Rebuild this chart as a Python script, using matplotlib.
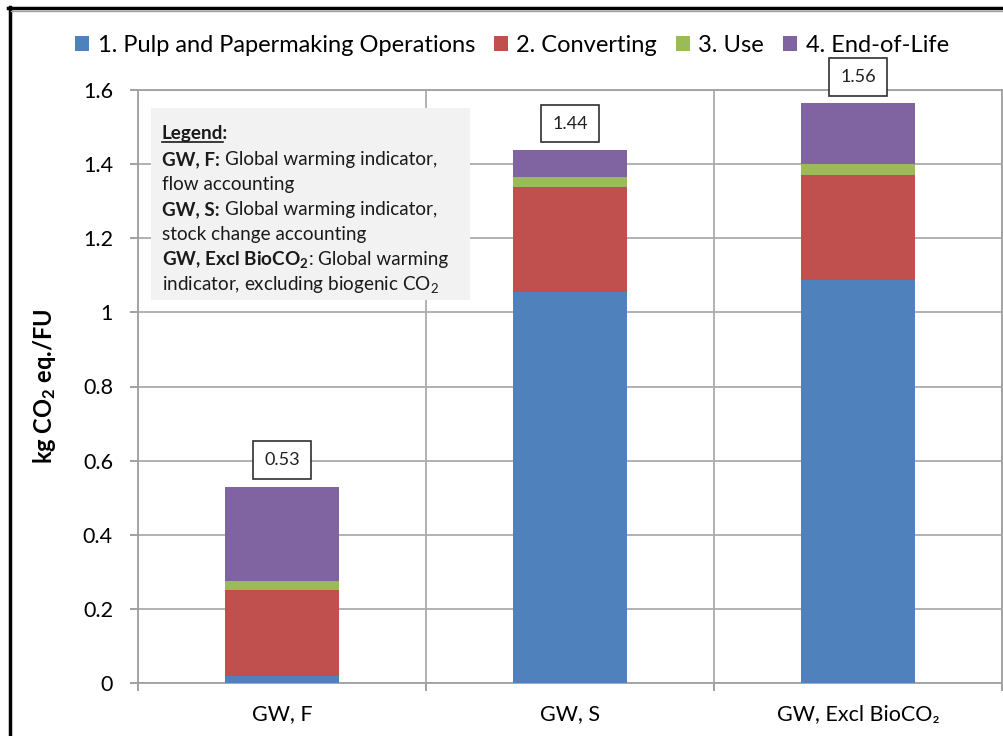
import matplotlib
matplotlib.use("Agg")
import matplotlib.pyplot as plt
from matplotlib.patches import Patch, Rectangle
from matplotlib.lines import Line2D
import numpy as np

plt.rcParams['font.family'] = ['Lato', 'DejaVu Sans']
plt.rcParams['mathtext.fontset'] = 'custom'
plt.rcParams['mathtext.rm'] = 'Lato'
plt.rcParams['mathtext.it'] = 'Lato:italic'
plt.rcParams['mathtext.bf'] = 'Lato:bold'

# ---- data ----
categories = ["GW, F", "GW, S", "GW, Excl BioCO\u2082"]
series_names = ["1. Pulp and Papermaking Operations", "2. Converting", "3. Use", "4. End-of-Life"]
pulp = [0.020, 1.055, 1.087]
converting = [0.230, 0.284, 0.285]
use = [0.026, 0.026, 0.028]
end_of_life = [0.254, 0.073, 0.164]
totals_labels = ["0.53", "1.44", "1.56"]
yticks = [0, 0.2, 0.4, 0.6, 0.8, 1.0, 1.2, 1.4, 1.6]
ytick_labels = ["0", "0.2", "0.4", "0.6", "0.8", "1", "1.2", "1.4", "1.6"]
colors = ["#4F81BD", "#C0504D", "#9BBB59", "#8064A2"]

W, H = 1004, 736
fig = plt.figure(figsize=(W / 100, H / 100), dpi=100)

def fx(x):
    return x / W

def fy(y):
    return 1 - y / H

ax = fig.add_axes([fx(138), fy(683), fx(1002) - fx(138), fy(90) - fy(683)])

x = np.arange(len(categories))
series = [pulp, converting, use, end_of_life]
bottom = np.zeros(len(categories))
handles = []
for vals, c, name in zip(series, colors, series_names):
    ax.bar(x, vals, width=0.395, bottom=bottom, color=c, zorder=3, linewidth=0)
    bottom = bottom + np.array(vals)
    handles.append(Patch(facecolor=c, edgecolor='none', label=name))

for xi, top, lab in zip(x, bottom, totals_labels):
    ax.annotate(lab, xy=(xi, top), xytext=(0, 19), textcoords='offset points',
                ha='center', va='center', fontsize=13, color='#202020', zorder=5,
                bbox=dict(boxstyle='square,pad=0.6', facecolor='white', edgecolor='#303030', linewidth=1.2))

ax.set_xlim(-0.5, 2.5)
ax.set_ylim(0, 1.6)
ax.set_yticks(yticks)
ax.set_yticklabels(ytick_labels, fontsize=15.5)
ax.set_xticks([-0.5, 0.5, 1.5, 2.5])
ax.set_xticklabels([])
ax.set_xticks(x, minor=True)
ax.set_xticklabels(categories, minor=True, fontsize=15.5)
ax.tick_params(axis='x', which='minor', length=0, pad=15)
ax.tick_params(axis='x', which='major', length=6, color='#909090', width=1.2)
ax.tick_params(axis='y', length=6, color='#909090', width=1.2, pad=12)
ax.grid(True, which='major', color='#ababab', linewidth=1.3, zorder=0)
ax.set_axisbelow(True)
for s in ax.spines.values():
    s.set_color('#a0a0a0')
    s.set_linewidth(1.3)

ax.set_ylabel(r"kg CO$_\mathbf{2}$ eq./FU", fontsize=17, fontweight='bold', labelpad=18)

fig.legend(handles=handles, loc='center', bbox_to_anchor=(fx(512), fy(45)), ncol=4,
           frameon=False, fontsize=17, handlelength=0.6, handleheight=0.6,
           handletextpad=0.35, columnspacing=0.8, borderaxespad=0)

# text box
fig.add_artist(Rectangle((fx(151), fy(300)), fx(470) - fx(151), fy(108) - fy(300),
                         transform=fig.transFigure, facecolor='#f2f2f2', edgecolor='none', zorder=4))

renderer = fig.canvas.get_renderer()
lines = [
    [("Legend:", 'bold')],
    [("GW, F:", 'bold'), ("Global warming indicator,", 'normal')],
    [("flow accounting", 'normal')],
    [("GW, S:", 'bold'), ("Global warming indicator,", 'normal')],
    [("stock change accounting", 'normal')],
    [(r"GW, Excl BioCO$_\mathbf{2}$", 'bold'), (":", 'normal'), ("Global warming", 'normal')],
    [("indicator, excluding biogenic CO$_2$", 'normal')],
]
baselines = [139, 165, 190, 215, 240, 265, 290]
fs_box = 13.6
x0 = 162
for parts, yb in zip(lines, baselines):
    cx = x0
    for i, (txt, wgt) in enumerate(parts):
        t = fig.text(fx(cx), fy(yb), txt, fontsize=fs_box, fontweight=wgt, ha='left',
                     va='baseline', color='#1a1a1a', zorder=6)
        bb = t.get_window_extent(renderer)
        if txt == "Legend:":
            t2 = fig.text(0, 0, "Legend", fontsize=fs_box, fontweight='bold')
            wl = t2.get_window_extent(renderer).width
            t2.remove()
            fig.add_artist(Line2D([fx(cx), fx(cx + wl)], [fy(yb + 3), fy(yb + 3)],
                                  transform=fig.transFigure, color='#1a1a1a', linewidth=1.2, zorder=6))
        gap = 0 if txt.endswith("$") else 5
        cx = cx + bb.width + gap

# outer border (cropped frame)
fig.add_artist(Line2D([fx(9.5), fx(9.5)], [0, fy(7)], transform=fig.transFigure, color='black', linewidth=2.5))
fig.add_artist(Line2D([fx(8.5), 1], [fy(8), fy(8)], transform=fig.transFigure, color='black', linewidth=2.5))
fig.add_artist(Line2D([fx(11), 1], [fy(10.5), fy(10.5)], transform=fig.transFigure, color='#a0a0a0', linewidth=1))

fig.savefig("out.png", dpi=100)
